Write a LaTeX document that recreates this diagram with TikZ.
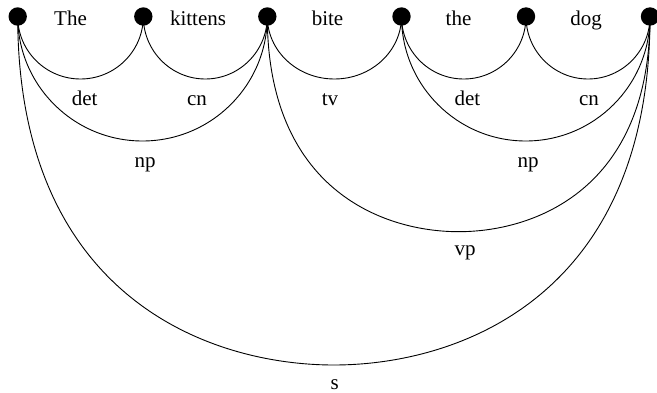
\documentclass[tikz,border=0pt]{standalone}
\usepackage{fontspec}
\setmainfont{Liberation Serif}
\begin{document}
\begin{tikzpicture}[x=1pt,y=-1pt,
  dot/.style={circle,fill=black,draw=none,inner sep=0pt,minimum size=18.4pt},
  word/.style={anchor=base,inner sep=0pt,font=\fontsize{21}{25}\selectfont},
  arcline/.style={draw=black,line width=0.9pt}]
\useasboundingbox (0,0) rectangle (657,393);
% dots
\node[dot] (d1) at (17.7,16.5) {};
\node[dot] (d2) at (143.3,16.5) {};
\node[dot] (d3) at (267.3,16.5) {};
\node[dot] (d4) at (401.5,16.5) {};
\node[dot] (d5) at (526,16.5) {};
\node[dot] (d6) at (650,16.5) {};
% words
\node[word] (w1) at (70.5,26) {The};
\node[word] (w2) at (198,26) {kittens};
\node[word] (w3) at (327.5,26) {bite};
\node[word] (w4) at (458.5,26) {the};
\node[word] (w5) at (586,26) {dog};
% arc bottoms
\coordinate (bdet1) at (80.5,79);
\coordinate (bcn1) at (205.3,79);
\coordinate (btv) at (334.4,79);
\coordinate (bdet2) at (463.75,79);
\coordinate (bcn2) at (588,79);
\coordinate (bnp1) at (142.5,141);
\coordinate (bnp2) at (525.75,141);
\coordinate (bvp) at (458.65,231.7);
\coordinate (bs) at (333.85,365);
% arcs
\draw[arcline] (d1.center) .. controls +(0,34.5) and +(-34.7,0) .. (bdet1) .. controls +(34.7,0) and +(0,34.5) .. (d2.center);
\draw[arcline] (d2.center) .. controls +(0,34.5) and +(-34.2,0) .. (bcn1) .. controls +(34.2,0) and +(0,34.5) .. (d3.center);
\draw[arcline] (d3.center) .. controls +(0,34.5) and +(-37.1,0) .. (btv) .. controls +(37.1,0) and +(0,34.5) .. (d4.center);
\draw[arcline] (d4.center) .. controls +(0,34.5) and +(-34.4,0) .. (bdet2) .. controls +(34.4,0) and +(0,34.5) .. (d5.center);
\draw[arcline] (d5.center) .. controls +(0,34.5) and +(-34.2,0) .. (bcn2) .. controls +(34.2,0) and +(0,34.5) .. (d6.center);
\draw[arcline] (d1.center) .. controls +(0,68.8) and +(-68.9,0) .. (bnp1) .. controls +(68.9,0) and +(0,68.8) .. (d3.center);
\draw[arcline] (d4.center) .. controls +(0,68.8) and +(-68.6,0) .. (bnp2) .. controls +(68.6,0) and +(0,68.8) .. (d6.center);
\draw[arcline] (d3.center) .. controls +(0,172.2) and +(-76.5,0) .. (bvp) .. controls +(76.5,0) and +(0,172.2) .. (d6.center);
\draw[arcline] (d1.center) .. controls +(0,278.8) and +(-126.5,0) .. (bs) .. controls +(126.5,0) and +(0,278.8) .. (d6.center);
% labels
\node[word] (ldet1) at (84.7,106) {det};
\node[word] (lcn1) at (197,106) {cn};
\node[word] (ltv) at (330,106) {tv};
\node[word] (ldet2) at (467.5,106) {det};
\node[word] (lcn2) at (589,106) {cn};
\node[word] (lnp1) at (145,168) {np};
\node[word] (lnp2) at (528,168) {np};
\node[word] (lvp) at (465,255.7) {vp};
\node[word] (ls) at (334.7,389.3) {s};
\end{tikzpicture}
\end{document}
